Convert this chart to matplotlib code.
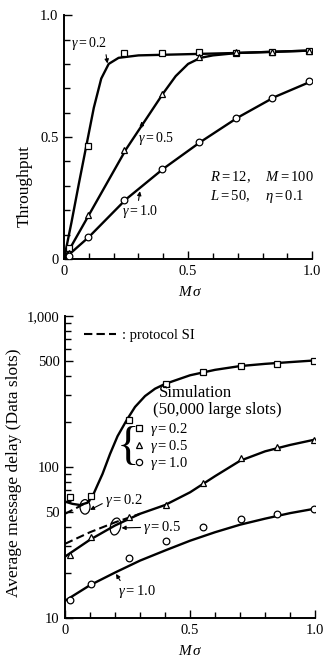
import matplotlib
matplotlib.use("Agg")
import matplotlib.pyplot as plt
from matplotlib.patches import Ellipse
from matplotlib.lines import Line2D
from matplotlib.ticker import FixedLocator, FixedFormatter

plt.rcParams['font.family'] = ['Liberation Serif', 'DejaVu Serif']
plt.rcParams['mathtext.fontset'] = 'custom'
plt.rcParams['mathtext.rm'] = 'Liberation Serif'
plt.rcParams['mathtext.it'] = 'Liberation Serif:italic'
plt.rcParams['mathtext.bf'] = 'Liberation Serif:bold'

# ---- throughput (top) ----
thr_curve_x_02 = [0, 0.03, 0.06, 0.09, 0.12, 0.15, 0.18, 0.22, 0.3, 0.5, 0.7, 1.0]
thr_curve_y_02 = [0, 0.15, 0.31, 0.465, 0.62, 0.74, 0.80, 0.825, 0.835, 0.84, 0.845, 0.855]
thr_curve_x_05 = [0, 0.1, 0.25, 0.4, 0.45, 0.5, 0.55, 0.6, 0.7, 0.85, 1.0]
thr_curve_y_05 = [0, 0.18, 0.45, 0.68, 0.75, 0.80, 0.825, 0.835, 0.845, 0.85, 0.855]
thr_curve_x_10 = [0, 0.1, 0.25, 0.4, 0.55, 0.7, 0.85, 1.0]
thr_curve_y_10 = [0, 0.09, 0.245, 0.37, 0.48, 0.58, 0.665, 0.73]

thr_sim_x = [0.02, 0.098, 0.243, 0.393, 0.545, 0.695, 0.84, 0.988]
thr_sim_02 = [0.045, 0.465, 0.843, 0.846, 0.85, 0.846, 0.85, 0.853]
thr_sim_05 = [0.025, 0.18, 0.447, 0.677, 0.827, 0.847, 0.85, 0.853]
thr_sim_10 = [0.011, 0.09, 0.24, 0.368, 0.48, 0.58, 0.66, 0.73]

# ---- delay (bottom) ----
dl_curve_x_02 = [0, 0.03, 0.06, 0.09, 0.11, 0.13, 0.15, 0.18, 0.21, 0.247, 0.28, 0.32, 0.36,
                 0.4, 0.5, 0.6, 0.7, 0.8, 0.9, 1.0]
dl_curve_y_02 = [59, 57, 56, 58, 64, 76, 90, 122, 160, 205, 250, 295, 330,
                 355, 405, 440, 466, 482, 495, 508]
dl_curve_x_05 = [0, 0.1, 0.2, 0.3, 0.4, 0.5, 0.6, 0.7, 0.8, 0.9, 1.0]
dl_curve_y_05 = [25.5, 33, 41, 49, 56, 68, 87, 110, 127, 140, 152]
dl_curve_x_10 = [0, 0.1, 0.2, 0.3, 0.4, 0.5, 0.6, 0.7, 0.8, 0.9, 1.0]
dl_curve_y_10 = [13, 16.5, 20, 24, 28, 32.5, 37, 41.5, 45.5, 49.5, 53]

si_x_02 = [0, 0.05, 0.1]
si_y_02 = [49, 54, 60]
si_x_05 = [0, 0.1, 0.2, 0.3]
si_y_05 = [31, 37, 43, 49]

dl_sim_x = [0.019, 0.103, 0.255, 0.405, 0.553, 0.703, 0.847, 0.996]
dl_sim_02 = [63.5, 64, 205, 352, 424, 466, 483, 506]
dl_sim_05 = [26.1, 34.2, 46.9, 56, 78.8, 114, 135, 151]
dl_sim_10 = [13.2, 16.7, 24.8, 32.4, 39.9, 45.1, 48.9, 52.5]

xticks = [0, 0.5, 1.0]
xticklabels = ['0', '0.5', '1.0']
dl_yticks = [10, 50, 100, 500, 1000]
dl_yticklabels = ['10', '50', '100', '500', '1,000']

fig = plt.figure(figsize=(3.3, 6.59), dpi=100)
ax1 = fig.add_axes([0.194, 0.607, 0.752, 0.370])
ax2 = fig.add_axes([0.197, 0.0622, 0.758, 0.4583])

mk = dict(mfc='white', mec='black', mew=0.9, ms=4.8, ls='none', zorder=3)
lw = 1.7
fs = 10

for ax in (ax1, ax2):
    ax.spines['top'].set_visible(False)
    ax.spines['right'].set_visible(False)
    ax.spines['left'].set_linewidth(1.4)
    ax.spines['bottom'].set_linewidth(1.4)
    ax.set_xlim(0, 1.0)
    ax.xaxis.set_major_locator(FixedLocator(xticks))
    ax.xaxis.set_major_formatter(FixedFormatter(xticklabels))
    ax.xaxis.set_minor_locator(FixedLocator([i / 10 for i in range(11)]))
    ax.tick_params(which='both', direction='in', labelsize=fs + 0.5, width=1.0, pad=4)
    ax.tick_params(which='major', length=6)
    ax.tick_params(which='minor', length=4)
    ax.set_xlabel(r'$M\,\sigma$', fontsize=fs + 1)

arw = dict(arrowstyle='-|>', lw=0.8, color='black', mutation_scale=6,
           shrinkA=0, shrinkB=0)

# top
ax1.plot(thr_curve_x_02, thr_curve_y_02, color='black', lw=lw)
ax1.plot(thr_curve_x_05, thr_curve_y_05, color='black', lw=lw)
ax1.plot(thr_curve_x_10, thr_curve_y_10, color='black', lw=lw)
ax1.plot(thr_sim_x, thr_sim_02, marker='s', **mk)
ax1.plot(thr_sim_x, thr_sim_05, marker='^', **mk)
ax1.plot(thr_sim_x, thr_sim_10, marker='o', **mk)
ax1.set_ylim(0, 1.0)
ax1.yaxis.set_major_locator(FixedLocator([0, 0.5, 1.0]))
ax1.yaxis.set_major_formatter(FixedFormatter(['0', '0.5', '1.0']))
ax1.yaxis.set_minor_locator(FixedLocator([i / 10 for i in range(11)]))
ax1.set_ylabel('Throughput', fontsize=12.5)
ax1.yaxis.set_label_coords(-0.125, 0.3)
ax1.xaxis.set_label_coords(0.51, -0.105)

ax1.annotate(r'$\gamma=0.2$', xy=(0.175, 0.802), xytext=(0.03, 0.884), fontsize=fs,
             va='center', arrowprops=dict(arw, relpos=(0.95, 0.0)))
ax1.annotate(r'$\gamma=0.5$', xy=(0.313, 0.565), xytext=(0.30, 0.495), fontsize=fs,
             va='center', arrowprops=dict(arw, relpos=(0.1, 1.0)))
ax1.annotate(r'$\gamma=1.0$', xy=(0.306, 0.278), xytext=(0.233, 0.194), fontsize=fs,
             va='center', arrowprops=dict(arw, relpos=(0.45, 1.0)))
ax1.text(0.589, 0.337, r'$R=12,\ \ \ \ M=100$', fontsize=fs + 0.5, va='center')
ax1.text(0.589, 0.255, r'$L=50,\ \ \ \ \eta=0.1$', fontsize=fs + 0.5, va='center')

# bottom
ax2.set_yscale('log')
ax2.plot(dl_curve_x_02, dl_curve_y_02, color='black', lw=lw)
ax2.plot(dl_curve_x_05, dl_curve_y_05, color='black', lw=lw)
ax2.plot(dl_curve_x_10, dl_curve_y_10, color='black', lw=lw)
ax2.plot(si_x_02, si_y_02, color='black', lw=1.5, ls=(0, (4, 2)))
ax2.plot(si_x_05, si_y_05, color='black', lw=1.5, ls=(0, (4, 2)))
ax2.plot(dl_sim_x, dl_sim_02, marker='s', **mk)
ax2.plot(dl_sim_x, dl_sim_05, marker='^', **mk)
ax2.plot(dl_sim_x, dl_sim_10, marker='o', **mk)
ax2.set_ylim(10, 1000)
ax2.yaxis.set_major_locator(FixedLocator(dl_yticks))
ax2.yaxis.set_major_formatter(FixedFormatter(dl_yticklabels))
ax2.yaxis.set_minor_locator(FixedLocator([20, 30, 40, 60, 70, 80, 90,
                                          200, 300, 400, 600, 700, 800, 900]))
ax2.yaxis.set_minor_formatter(FixedFormatter([]))
ax2.set_ylabel('Average message delay (Data slots)', fontsize=12.5)
ax2.yaxis.set_label_coords(-0.17, 0.48)
ax2.xaxis.set_label_coords(0.5, -0.085)

si_handle = Line2D([], [], color='black', lw=1.5, ls=(0, (4, 2)))
leg1 = ax2.legend([si_handle], [': protocol SI'], loc='center left',
                  bbox_to_anchor=(0.075, 0.937), frameon=False, fontsize=fs + 0.5,
                  handlelength=2.2, handletextpad=0.4, borderpad=0, borderaxespad=0)
ax2.add_artist(leg1)
sim_handles = [Line2D([], [], marker=m, mfc='white', mec='black', mew=0.9, ms=4.5, ls='none')
               for m in ('s', '^', 'o')]
ax2.legend(sim_handles, [r'$\gamma=0.2$', r'$\gamma=0.5$', r'$\gamma=1.0$'],
           loc='upper left', bbox_to_anchor=(0.27, 0.652), frameon=False, fontsize=fs + 0.5,
           handlelength=0.9, handletextpad=0.3, labelspacing=0.0, borderpad=0,
           borderaxespad=0)
ax2.text(0.252, 0.565, '{', fontsize=34, transform=ax2.transAxes, ha='center', va='center')
ax2.text(0.523, 0.745, 'Simulation', fontsize=12, transform=ax2.transAxes,
         ha='center', va='center')
ax2.text(0.61, 0.689, '(50,000 large slots)', fontsize=12, transform=ax2.transAxes,
         ha='center', va='center')

ax2.add_patch(Ellipse((0.08, 0.368), 0.04, 0.048, angle=0, transform=ax2.transAxes,
                      fill=False, lw=0.9, color='black'))
ax2.add_patch(Ellipse((0.202, 0.303), 0.04, 0.058, angle=-20, transform=ax2.transAxes,
                      fill=False, lw=0.9, color='black'))
ax2.annotate(r'$\gamma=0.2$', xy=(0.1, 52), xytext=(0.16, 60), fontsize=fs + 0.5,
             va='center', arrowprops=dict(arw, relpos=(0.0, 0.4)))
ax2.annotate(r'$\gamma=0.5$', xy=(0.226, 39.5), xytext=(0.313, 39.8), fontsize=fs + 0.5,
             va='center', arrowprops=dict(arw, relpos=(0.0, 0.5)))
ax2.annotate(r'$\gamma=1.0$', xy=(0.204, 19.6), xytext=(0.212, 14.9), fontsize=fs + 0.5,
             va='center', arrowprops=dict(arw, relpos=(0.1, 1.0)))

fig.savefig('out.png', dpi=100)
